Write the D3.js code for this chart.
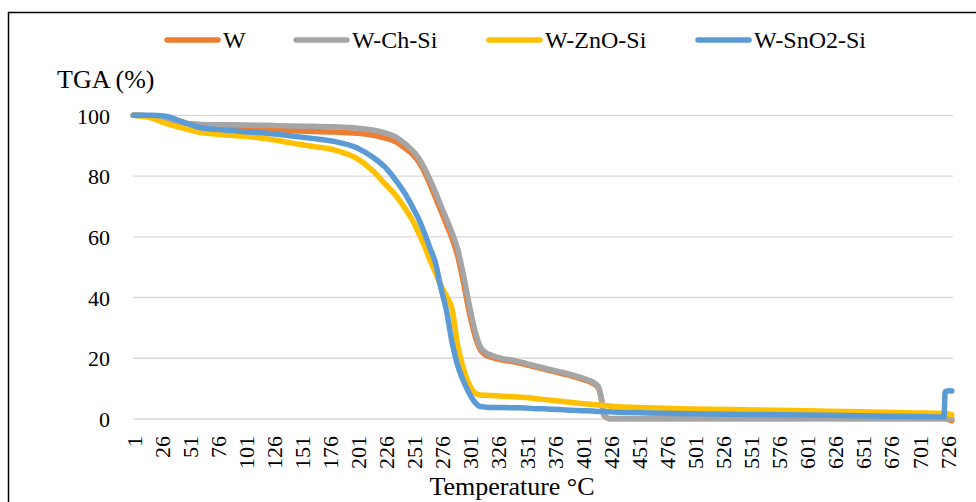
<!DOCTYPE html>
<html>
<head>
<meta charset="utf-8">
<script src="https://cdn.jsdelivr.net/npm/d3@7"></script>
<style>
  body { margin: 0; background: #fff; }
  svg text { font-family: "Liberation Serif", "Times New Roman", serif !important; fill: #000; }
</style>
</head>
<body>
<div id="tga"></div>
<script>
var temps = [1,15,30,45,60,80,100,120,140,160,180,200,215,225,235,245,250,255,260,265,270,275,280,285,290,295,300,305,310,315,320,330,340,350,360,370,380,390,400,410,415,418,420,425,430,450,475,500,550,600,650,700,720,723,724,726,728,730];

var tgaW = [100,99.8,98.8,97.5,97,96.6,96.2,95.5,95,94.7,94.5,94.1,93.4,92.5,91.2,88.6,87,84.8,81.5,77.5,73,68.5,64,59.3,53.5,45,35.5,27.8,22.8,21,20.3,19.4,18.8,17.9,17,16.1,15.2,14.3,13.2,11.8,10.4,6.2,1.2,0.1,0.1,0.1,0.1,0.1,0.1,0.1,0.1,0.1,0.1,0.1,0.1,0,-0.3,-0.6];

var tgaChSi = [100,99.8,98.8,97.5,97,96.9,96.8,96.7,96.5,96.4,96.2,95.8,95.1,94.2,92.8,90,88.3,86,82.8,79,74.8,70.2,65.8,61.2,55.8,47.5,38,29.5,23.8,21.8,21,19.9,19.3,18.4,17.4,16.5,15.6,14.7,13.6,12.2,10.8,6.5,1.5,0.2,0.2,0.2,0.2,0.2,0.2,0.2,0.2,0.2,0.2,0.2,0.2,0.2,0.2,0.2];

var tgaZnOSi = [100,99.3,97.3,95.8,94.4,93.6,93.1,92.3,91,89.8,88.6,85.8,81.5,77.5,73.5,68.2,65.2,61.3,57.2,52.5,48.3,43.9,40.4,36,24,16.5,11.5,8.7,7.9,7.8,7.7,7.5,7.3,7.1,6.7,6.3,5.9,5.5,5.1,4.8,4.6,4.5,4.45,4.3,4.1,3.8,3.5,3.3,3,2.7,2.4,2,1.9,1.9,1.85,1.8,1.5,1.4];

var tgaSnO2Si = [100,100,99.7,97.8,96,95.2,94.6,94.1,93.3,92.4,91.4,89.3,86,83,78.5,73,69.5,66,61.5,56.5,51.5,43,35.5,25,17.5,12.5,8.6,5.6,4.1,3.9,3.8,3.8,3.7,3.6,3.4,3.3,3.1,2.9,2.75,2.6,2.5,2.5,2.45,2.4,2.3,2.1,1.9,1.7,1.5,1.3,1.1,0.8,0.7,0.6,9,9.2,9.3,9.2];

var seriesNames = ["W", "W-Ch-Si", "W-ZnO-Si", "W-SnO2-Si"];
var seriesColors = ["#ED7D31", "#A5A5A5", "#FFC000", "#5B9BD5"];
var tempTicks = d3.range(1, 727, 25);
var tgaTicks = [0, 20, 40, 60, 80, 100];

var serif = "'Liberation Serif', 'Times New Roman', serif";
var W = 976, H = 502;
var svg = d3.select("#tga").append("svg").attr("width", W).attr("height", H);

// outer frame (right and bottom edges fall outside the picture)
svg.append("rect").attr("x", 8.5).attr("y", 12.5).attr("width", 1000).attr("height", 600)
  .attr("fill", "none").attr("stroke", "#000").attr("stroke-width", 1.5);

var x = d3.scaleLinear().domain([1, 731]).range([133.3, 953]);
var y = d3.scaleLinear().domain([0, 100]).range([419, 115.3]);

// gridlines
svg.append("g").selectAll("line").data(tgaTicks).enter().append("line")
  .attr("x1", x(1)).attr("x2", x(731))
  .attr("y1", function(d) { return y(d); }).attr("y2", function(d) { return y(d); })
  .attr("stroke", "#D9D9D9").attr("stroke-width", 1.3);

// y axis labels
var yAxis = svg.append("g").attr("transform", "translate(110,0)")
  .call(d3.axisLeft(y).tickValues(tgaTicks).tickSize(0).tickPadding(0));
yAxis.attr("font-family", serif).attr("font-size", 22);
yAxis.select(".domain").remove();
yAxis.selectAll("text").attr("dy", "0.35em");

// x axis labels, rotated
var xAxis = svg.append("g").attr("transform", "translate(0,436)")
  .call(d3.axisBottom(x).tickValues(tempTicks).tickFormat(d3.format("d")).tickSize(0).tickPadding(0));
xAxis.attr("font-family", serif).attr("font-size", 22);
xAxis.select(".domain").remove();
xAxis.selectAll("text")
  .attr("transform", "rotate(-90)").attr("text-anchor", "end")
  .attr("x", 0).attr("y", 0).attr("dy", "0.35em");

svg.append("text").attr("x", 57).attr("y", 88).attr("font-family", serif).attr("font-size", 26).text("TGA (%)");
svg.append("text").attr("x", 512).attr("y", 495).attr("text-anchor", "middle")
  .attr("font-family", serif).attr("font-size", 26).text("Temperature °C");

// curves
var allSeries = [tgaW, tgaChSi, tgaZnOSi, tgaSnO2Si];
var line = d3.line()
  .x(function(d, i) { return x(temps[i]); })
  .y(function(d) { return y(d); })
  .curve(d3.curveMonotoneX);

svg.append("g").selectAll("path").data(allSeries).enter().append("path")
  .attr("d", line)
  .attr("fill", "none")
  .attr("stroke", function(d, i) { return seriesColors[i]; })
  .attr("stroke-width", 5.5)
  .attr("stroke-linecap", "round")
  .attr("stroke-linejoin", "round");

// legend
var legendX = [165, 294, 487, 696];
var lg = svg.append("g").selectAll("g").data(seriesNames).enter().append("g")
  .attr("transform", function(d, i) { return "translate(" + legendX[i] + ",40)"; });
lg.append("line").attr("x1", 2).attr("x2", 53).attr("y1", 0).attr("y2", 0)
  .attr("stroke", function(d, i) { return seriesColors[i]; })
  .attr("stroke-width", 5.5).attr("stroke-linecap", "round");
lg.append("text").attr("x", 58).attr("y", 8).attr("font-family", serif).attr("font-size", 24)
  .text(function(d) { return d; });
</script>
</body>
</html>
